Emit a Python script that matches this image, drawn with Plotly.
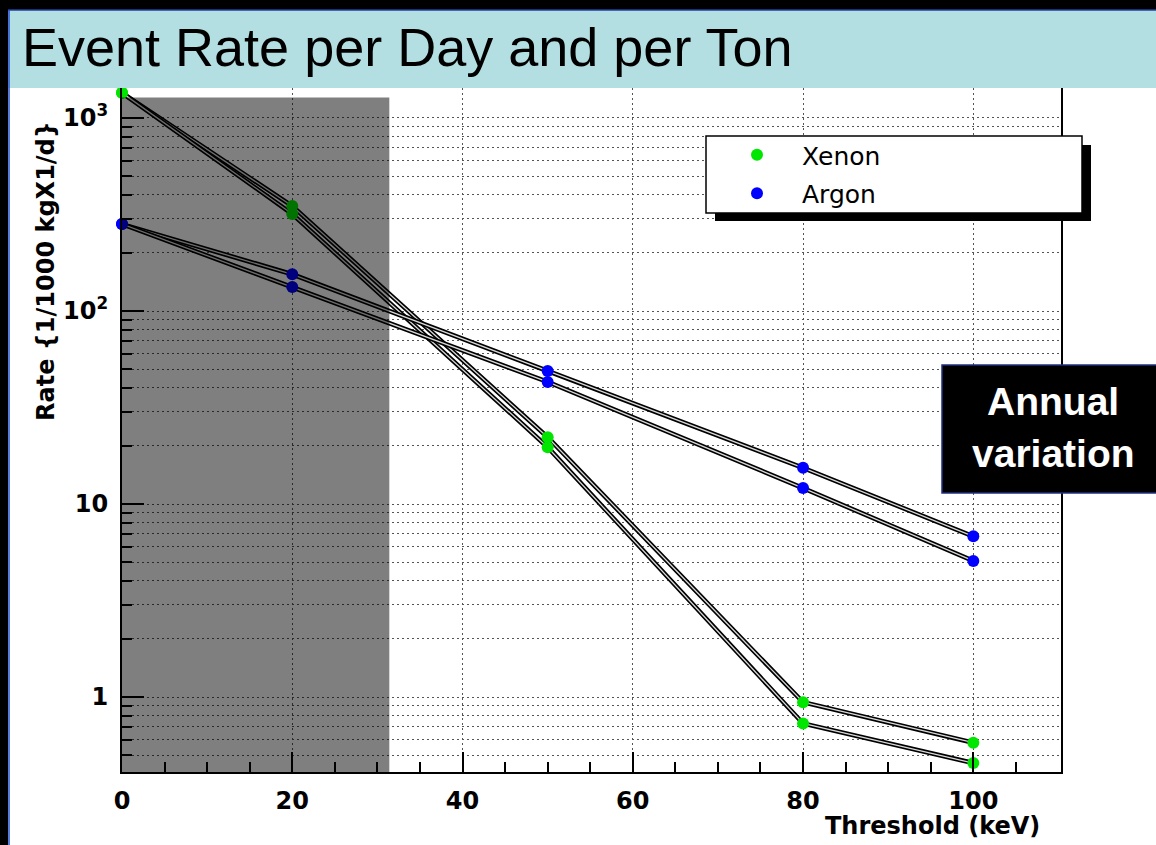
import math
import plotly.graph_objects as go

# ---------------- data ----------------
threshold_kev = [0, 20, 50, 80, 100]
xenon_high = [1350, 350, 22.2, 0.94, 0.58]
xenon_low = [1350, 318, 19.7, 0.73, 0.455]
argon_high = [282, 155, 48.9, 15.4, 6.8]
argon_low = [282, 133, 42.9, 12.1, 5.07]

series_names = ["Xenon", "Argon"]
series_colors = ["#00e600", "#0000ff"]

x_tick_vals = [0, 20, 40, 60, 80, 100]
x_tick_text = ["0", "20", "40", "60", "80", "100"]
y_tick_vals = [1, 10, 100, 1000]
y_tick_text = ["1", "10", "10<sup>2</sup>", "10<sup>3</sup>"]

shade_x_max = 31.4
shade_y_max = 1275
x_range = [0, 110.3]
y_range = [0.409, 1430]

title_text = "Event Rate per Day and per Ton"
y_title = "Rate {1/1000 kgX1/d}"
x_title = "Threshold (keV)"
note_lines = ["Annual", "variation"]

# ---------------- layout geometry ----------------
W, H = 1156, 845
L, R, T, B = 122, 95, 88, 73
PW, PH = W - L - R, H - T - B


def px2x(px):
    return (px - L) / PW


def py2y(py):
    return (H - B - py) / PH


minor_y = [m * 10 ** e for e in range(-1, 4) for m in range(2, 10)]
minor_y = [v for v in minor_y if y_range[0] <= v <= y_range[1]]
minor_x = [v for v in range(5, 110, 5) if v % 20 != 0]

fig = go.Figure()

materials = [(xenon_high, xenon_low), (argon_high, argon_low)]

# double-stroke lines
for hi, lo in materials:
    for ys in (hi, lo):
        fig.add_trace(go.Scatter(x=threshold_kev, y=ys, mode="lines",
                                 line=dict(color="black", width=4.6),
                                 showlegend=False, hoverinfo="skip"))
        fig.add_trace(go.Scatter(x=threshold_kev, y=ys, mode="lines",
                                 line=dict(color="#d8d8d8", width=1.3),
                                 showlegend=False, hoverinfo="skip"))

# markers
for i, (name, (hi, lo)) in enumerate(zip(series_names, materials)):
    fig.add_trace(go.Scatter(x=threshold_kev + threshold_kev, y=hi + lo,
                             mode="markers", name=name,
                             legendgroup=name,
                             marker=dict(color=series_colors[i], size=12,
                                         line=dict(width=0)),
                             cliponaxis=False))

grid_dash = "2px,3px"
grid_col = "#555555"

fig.update_xaxes(
    range=x_range, showline=True, linecolor="black", linewidth=2, mirror=True,
    tickmode="array", tickvals=x_tick_vals, ticktext=x_tick_text,
    ticks="inside", ticklen=20, tickwidth=2, tickcolor="black",
    showgrid=True, gridcolor=grid_col, griddash=grid_dash, gridwidth=1,
    zeroline=False,
    tickfont=dict(family="DejaVu Sans", size=24, color="black", weight="bold"),
    ticklabelstandoff=6,
    minor=dict(tickmode="array", tickvals=minor_x, ticks="inside", ticklen=10,
               tickwidth=2, tickcolor="black", showgrid=False),
)
fig.update_yaxes(
    type="log", range=[math.log10(y_range[0]), math.log10(y_range[1])],
    showline=True, linecolor="black", linewidth=2, mirror=True,
    tickmode="array", tickvals=y_tick_vals, ticktext=y_tick_text,
    ticks="inside", ticklen=22, tickwidth=2, tickcolor="black",
    showgrid=True, gridcolor=grid_col, griddash=grid_dash, gridwidth=1,
    zeroline=False,
    tickfont=dict(family="DejaVu Sans", size=24, color="black", weight="bold"),
    ticklabelstandoff=7,
    minor=dict(tickmode="array", tickvals=minor_y, ticks="inside", ticklen=10,
               tickwidth=2, tickcolor="black", showgrid=True,
               gridcolor=grid_col, griddash=grid_dash, gridwidth=1),
)

shapes = []
# shaded low-threshold region (above data, semi transparent)
shapes.append(dict(type="rect", xref="x", yref="y", x0=0, x1=shade_x_max,
                   y0=y_range[0], y1=shade_y_max, fillcolor="black",
                   opacity=0.5, line=dict(width=0), layer="above"))
# slide frame: title band and black borders
shapes.append(dict(type="rect", xref="paper", yref="paper",
                   x0=px2x(8), x1=px2x(W + 5), y0=py2y(88), y1=py2y(10),
                   fillcolor="#b3dfe2", line=dict(width=0), layer="above"))
shapes.append(dict(type="rect", xref="paper", yref="paper",
                   x0=px2x(0), x1=px2x(W), y0=py2y(10), y1=py2y(0),
                   fillcolor="black", line=dict(width=0), layer="above"))
shapes.append(dict(type="line", xref="paper", yref="paper",
                   x0=px2x(8), x1=px2x(W), y0=py2y(10), y1=py2y(10),
                   line=dict(color="#2040a0", width=1.5), layer="above"))
shapes.append(dict(type="rect", xref="paper", yref="paper",
                   x0=px2x(0), x1=px2x(8), y0=py2y(H), y1=py2y(0),
                   fillcolor="black", line=dict(width=0), layer="above"))
shapes.append(dict(type="line", xref="paper", yref="paper",
                   x0=px2x(9), x1=px2x(9), y0=py2y(H), y1=py2y(10),
                   line=dict(color="#2050d0", width=1.5), layer="above"))
# legend box with shadow
shapes.append(dict(type="rect", xref="paper", yref="paper",
                   x0=px2x(715), x1=px2x(1091), y0=py2y(221), y1=py2y(145),
                   fillcolor="black", line=dict(width=0), layer="above"))
shapes.append(dict(type="rect", xref="paper", yref="paper",
                   x0=px2x(706), x1=px2x(1082), y0=py2y(213), y1=py2y(136),
                   fillcolor="white", line=dict(color="black", width=1.5),
                   layer="above"))
# annual variation box
shapes.append(dict(type="rect", xref="paper", yref="paper",
                   x0=px2x(942), x1=px2x(W + 10), y0=py2y(493), y1=py2y(365),
                   fillcolor="black", line=dict(color="#1f3080", width=1.5),
                   layer="above"))

annotations = [
    dict(text=title_text, xref="paper", yref="paper", x=px2x(20), y=py2y(47),
         xanchor="left", yanchor="middle", showarrow=False,
         font=dict(family="Liberation Sans", size=54, color="black")),
    dict(text=y_title, xref="paper", yref="paper", x=px2x(46), y=py2y(271),
         xanchor="center", yanchor="middle", textangle=-90, showarrow=False,
         font=dict(family="DejaVu Sans", size=24, color="black", weight="bold")),
    dict(text=x_title, xref="paper", yref="paper", x=px2x(1042), y=py2y(826),
         xanchor="right", yanchor="middle", showarrow=False,
         font=dict(family="DejaVu Sans", size=24, color="black", weight="bold")),
    dict(text=note_lines[0], xref="paper", yref="paper", x=px2x(1053), y=py2y(401),
         xanchor="center", yanchor="middle", showarrow=False,
         font=dict(family="Liberation Sans", size=39, color="white", weight="bold")),
    dict(text=note_lines[1], xref="paper", yref="paper", x=px2x(1053), y=py2y(453),
         xanchor="center", yanchor="middle", showarrow=False,
         font=dict(family="Liberation Sans", size=39, color="white", weight="bold")),
]

fig.update_layout(
    width=W, height=H,
    margin=dict(l=L, r=R, t=T, b=B),
    paper_bgcolor="white", plot_bgcolor="white",
    shapes=shapes, annotations=annotations,
    showlegend=True,
    legend=dict(x=px2x(712), y=py2y(132), xanchor="left", yanchor="top",
                bgcolor="rgba(0,0,0,0)", borderwidth=0,
                itemwidth=80, tracegroupgap=3,
                font=dict(family="DejaVu Sans", size=25, color="black")),
)

fig.write_html(
    "out.html",
    config={"displayModeBar": False},
    post_script="document.body.style.margin='0px';document.body.style.overflow='hidden';",
)
